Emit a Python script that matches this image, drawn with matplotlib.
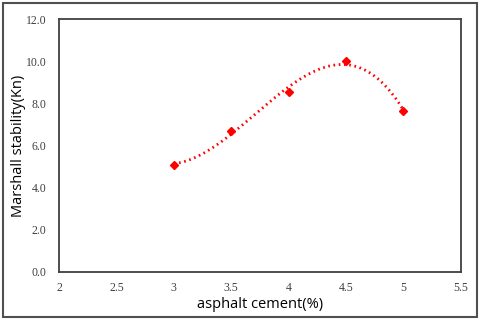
import matplotlib
matplotlib.use("Agg")
import matplotlib.pyplot as plt
import numpy as np
from matplotlib.patches import Rectangle

asphalt_cement = [3.0, 3.5, 4.0, 4.5, 5.0]
marshall_stability = [5.1, 6.7, 8.55, 10.0, 7.65]
x_ticks = [2, 2.5, 3, 3.5, 4, 4.5, 5, 5.5]
x_tick_labels = ["2", "2.5", "3", "3.5", "4", "4.5", "5", "5.5"]
y_ticks = [0, 2, 4, 6, 8, 10, 12]
y_tick_labels = ["0.0", "2.0", "4.0", "6.0", "8.0", "10.0", "12.0"]

fig = plt.figure(figsize=(4.8, 3.2), dpi=100)
ax = fig.add_axes([0.123, 0.15, 0.837, 0.79])

# polynomial (order 3) trendline, dotted as in the original sheet
coef = np.polyfit(asphalt_cement, marshall_stability, 3)
tx = np.linspace(min(asphalt_cement), max(asphalt_cement), 200)
ax.plot(tx, np.polyval(coef, tx), color="#ff0000", linestyle=(0, (0.6, 1.3)),
        linewidth=2.0)
ax.plot(asphalt_cement, marshall_stability, linestyle="none", marker="D",
        markersize=4.5, color="#ff0000")

ax.set_xlim(2, 5.5)
ax.set_ylim(0, 12)
ax.set_xticks(x_ticks)
ax.set_xticklabels(x_tick_labels)
ax.set_yticks(y_ticks)
ax.set_yticklabels(y_tick_labels)
ax.tick_params(length=0, labelsize=8.5, colors="#404040")
ax.tick_params(axis="y", pad=9)
ax.tick_params(axis="x", pad=7)
for lab in ax.get_xticklabels() + ax.get_yticklabels():
    lab.set_fontfamily("Liberation Serif")
for sp in ax.spines.values():
    sp.set_color("#404040")
    sp.set_linewidth(1.3)

ax.text(0.5, -0.128, "asphalt cement(%)", transform=ax.transAxes, ha="center",
        va="center", fontfamily="Open Sans", fontsize=10.5)
ax.text(-0.1, 0.5, "Marshall stability(Kn)", transform=ax.transAxes, ha="center",
        va="center", rotation=90, fontfamily="Open Sans", fontsize=10.5)

fig.patches.append(Rectangle((0.006, 0.01), 0.988, 0.98, transform=fig.transFigure,
                             fill=False, edgecolor="#505050", linewidth=1.5))

fig.savefig("out.png", dpi=100)
